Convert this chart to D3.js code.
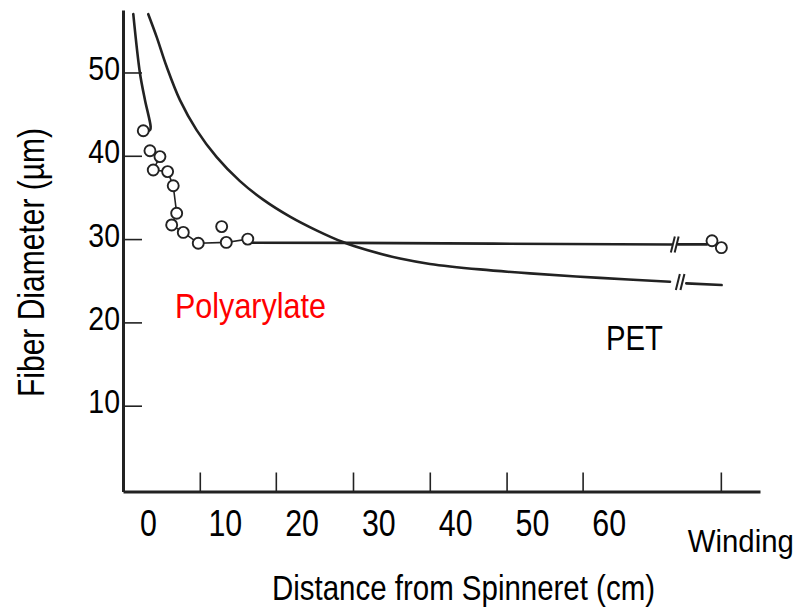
<!DOCTYPE html>
<html>
<head>
<meta charset="utf-8">
<script src="https://cdn.jsdelivr.net/npm/d3@7"></script>
<style>
  body { margin: 0; background: #fff; }
  svg text { font-family: "Liberation Sans", Arial, sans-serif; }
</style>
</head>
<body>
<div class="container"></div>
<script>
// values: x = distance (cm), y = fiber diameter (µm)
const yTicks = [10, 20, 30, 40, 50]
const xLabels = [0, 10, 20, 30, 40, 50, 60]
const xTickMarks = [6.75, 16.65, 26.7, 36.7, 46.7, 56.6, 74.6]
const windingX = 77.2

// polyarylate melt stream near the spinneret (ends in a hook at the first point)
const polyTop = [[-1.91, 57.0], [-1.04, 49.9], [-0.39, 46.7], [0.35, 43.5], [0.3, 43.15], [0.04, 42.97]]
// polyarylate measured points
const polyPts = [
  [-0.61, 43.0], [0.26, 40.6], [1.56, 39.9], [0.69, 38.3], [2.56, 38.1],
  [3.29, 36.4], [3.74, 33.1], [3.09, 31.7], [4.6, 30.8], [6.55, 29.5],
  [9.6, 31.5], [10.2, 29.6], [13.0, 30.0], [73.45, 29.8], [74.67, 28.97]
]
const polyChain = [1, 2, 3, 4, 5, 6, 7, 8, 9, 11, 12]
const polyLine = [[13.0, 29.57], [26, 29.55], [45, 29.45], [68.2, 29.35]]
const polyLineEnd = [[69.0, 29.37], [72.8, 29.37]]
const polyBreak = [68.35, 68.85]

// PET
const petLine = [
  [0.04, 57.0], [1.13, 54.28], [2.44, 50.68], [4.17, 46.68], [6.34, 43.08],
  [8.95, 39.84], [11.98, 36.96], [15.0, 34.74], [18.49, 32.7], [22.01, 31.02],
  [25.39, 29.64], [28.52, 28.68], [32.82, 27.66], [36.72, 27.02], [43.23, 26.36],
  [49.74, 25.88], [58.86, 25.34], [67.98, 24.88]
]
const petLineEnd = [[70.1, 24.68], [74.7, 24.48]]
const petBreak = [69.0, 69.6]

const w = 800
const h = 612
const ink = "#222"

const svg = d3.select(".container").append("svg")
  .attr("width", w)
  .attr("height", h)

const x = d3.scaleLinear().domain([-3.25, 79.7]).range([123, 760])
const y = d3.scaleLinear().domain([-0.3, 57.5]).range([491.5, 10])

// squeeze text horizontally, the figure uses a narrow face
const squeeze = (sel, k) => sel.each(function () {
  const tl = this.getComputedTextLength()
  d3.select(this).attr("textLength", tl * k).attr("lengthAdjust", "spacingAndGlyphs")
})

// x axis: line + upward tick marks
const xAxisG = svg.append("g")
  .attr("transform", "translate(0," + y(-0.3) + ")")
  .call(d3.axisBottom(x).tickValues(xTickMarks).tickSizeInner(-19).tickSizeOuter(0).tickFormat(""))
xAxisG.select(".domain").attr("stroke", ink).attr("stroke-width", 3)
xAxisG.selectAll(".tick line").attr("stroke", ink).attr("stroke-width", 1.6)

// x labels (not aligned to the tick marks in the original)
const xLabG = svg.append("g")
  .attr("transform", "translate(0," + y(-0.3) + ")")
  .call(d3.axisBottom(x).tickValues(xLabels).tickSize(0).tickPadding(18))
xLabG.select(".domain").remove()
xLabG.selectAll("text")
  .attr("font-size", 37)
  .attr("fill", "#000")
  .style("font-family", "'Liberation Sans', Arial, sans-serif")
  .call(squeeze, 0.82)

// y axis
const yAxisG = svg.append("g")
  .attr("transform", "translate(" + x(-3.25) + ",0)")
  .call(d3.axisLeft(y).tickValues(yTicks).tickSizeInner(-19).tickSizeOuter(0).tickPadding(3))
yAxisG.select(".domain").attr("stroke", ink).attr("stroke-width", 3)
yAxisG.selectAll(".tick line").attr("stroke", ink).attr("stroke-width", 1.6)
yAxisG.selectAll("text")
  .attr("font-size", 33.5)
  .attr("dy", "0.21em")
  .attr("fill", "#000")
  .style("font-family", "'Liberation Sans', Arial, sans-serif")
  .call(squeeze, 0.85)

const line = d3.line().x(d => x(d[0])).y(d => y(d[1]))
const smooth = d3.line().x(d => x(d[0])).y(d => y(d[1])).curve(d3.curveCatmullRom)

const curves = svg.append("g")
  .attr("fill", "none")
  .attr("stroke", ink)
  .attr("stroke-linecap", "round")

// PET
curves.append("path").attr("d", smooth(petLine)).attr("stroke-width", 2.6)
curves.append("path").attr("d", line(petLineEnd)).attr("stroke-width", 2.6)

// polyarylate
curves.append("path").attr("d", smooth(polyTop)).attr("stroke-width", 2.6)
curves.append("path").attr("d", line(polyLine)).attr("stroke-width", 2.6)
curves.append("path").attr("d", line(polyLineEnd)).attr("stroke-width", 2.6)
curves.append("path").attr("d", line(polyChain.map(i => polyPts[i]))).attr("stroke-width", 1.6)

// axis-break marks
const breaks = svg.append("g").attr("stroke", ink).attr("stroke-width", 2)
breaks.selectAll(".bp")
  .data(polyBreak)
  .join("line")
  .attr("x1", d => x(d) + 2).attr("y1", y(29.35) - 8)
  .attr("x2", d => x(d) - 2).attr("y2", y(29.35) + 8)
breaks.selectAll(".bq")
  .data(petBreak)
  .join("line")
  .attr("x1", d => x(d) + 2).attr("y1", y(24.85) - 8)
  .attr("x2", d => x(d) - 2).attr("y2", y(24.85) + 8)

// points
svg.append("g")
  .selectAll("circle")
  .data(polyPts)
  .join("circle")
  .attr("cx", d => x(d[0]))
  .attr("cy", d => y(d[1]))
  .attr("r", 5.5)
  .attr("fill", "#fff")
  .attr("stroke", ink)
  .attr("stroke-width", 1.9)

// texts
svg.append("text")
  .attr("x", x(windingX))
  .attr("y", 552)
  .attr("text-anchor", "middle")
  .attr("font-size", 30.5)
  .attr("textLength", 106)
  .attr("lengthAdjust", "spacingAndGlyphs")
  .text("Winding")

svg.append("text")
  .attr("x", 463.5)
  .attr("y", 600)
  .attr("text-anchor", "middle")
  .attr("font-size", 35)
  .attr("textLength", 383)
  .attr("lengthAdjust", "spacingAndGlyphs")
  .text("Distance from Spinneret (cm)")

svg.append("text")
  .attr("transform", "translate(43.5,262.5) rotate(-90)")
  .attr("text-anchor", "middle")
  .attr("font-size", 37)
  .attr("textLength", 269)
  .attr("lengthAdjust", "spacingAndGlyphs")
  .text("Fiber Diameter (µm)")

svg.append("text")
  .attr("x", 175)
  .attr("y", 318)
  .attr("font-size", 35)
  .attr("fill", "#ff0000")
  .attr("textLength", 151)
  .attr("lengthAdjust", "spacingAndGlyphs")
  .text("Polyarylate")

svg.append("text")
  .attr("x", 606)
  .attr("y", 350)
  .attr("font-size", 35)
  .attr("textLength", 57)
  .attr("lengthAdjust", "spacingAndGlyphs")
  .text("PET")
</script>
</body>
</html>
